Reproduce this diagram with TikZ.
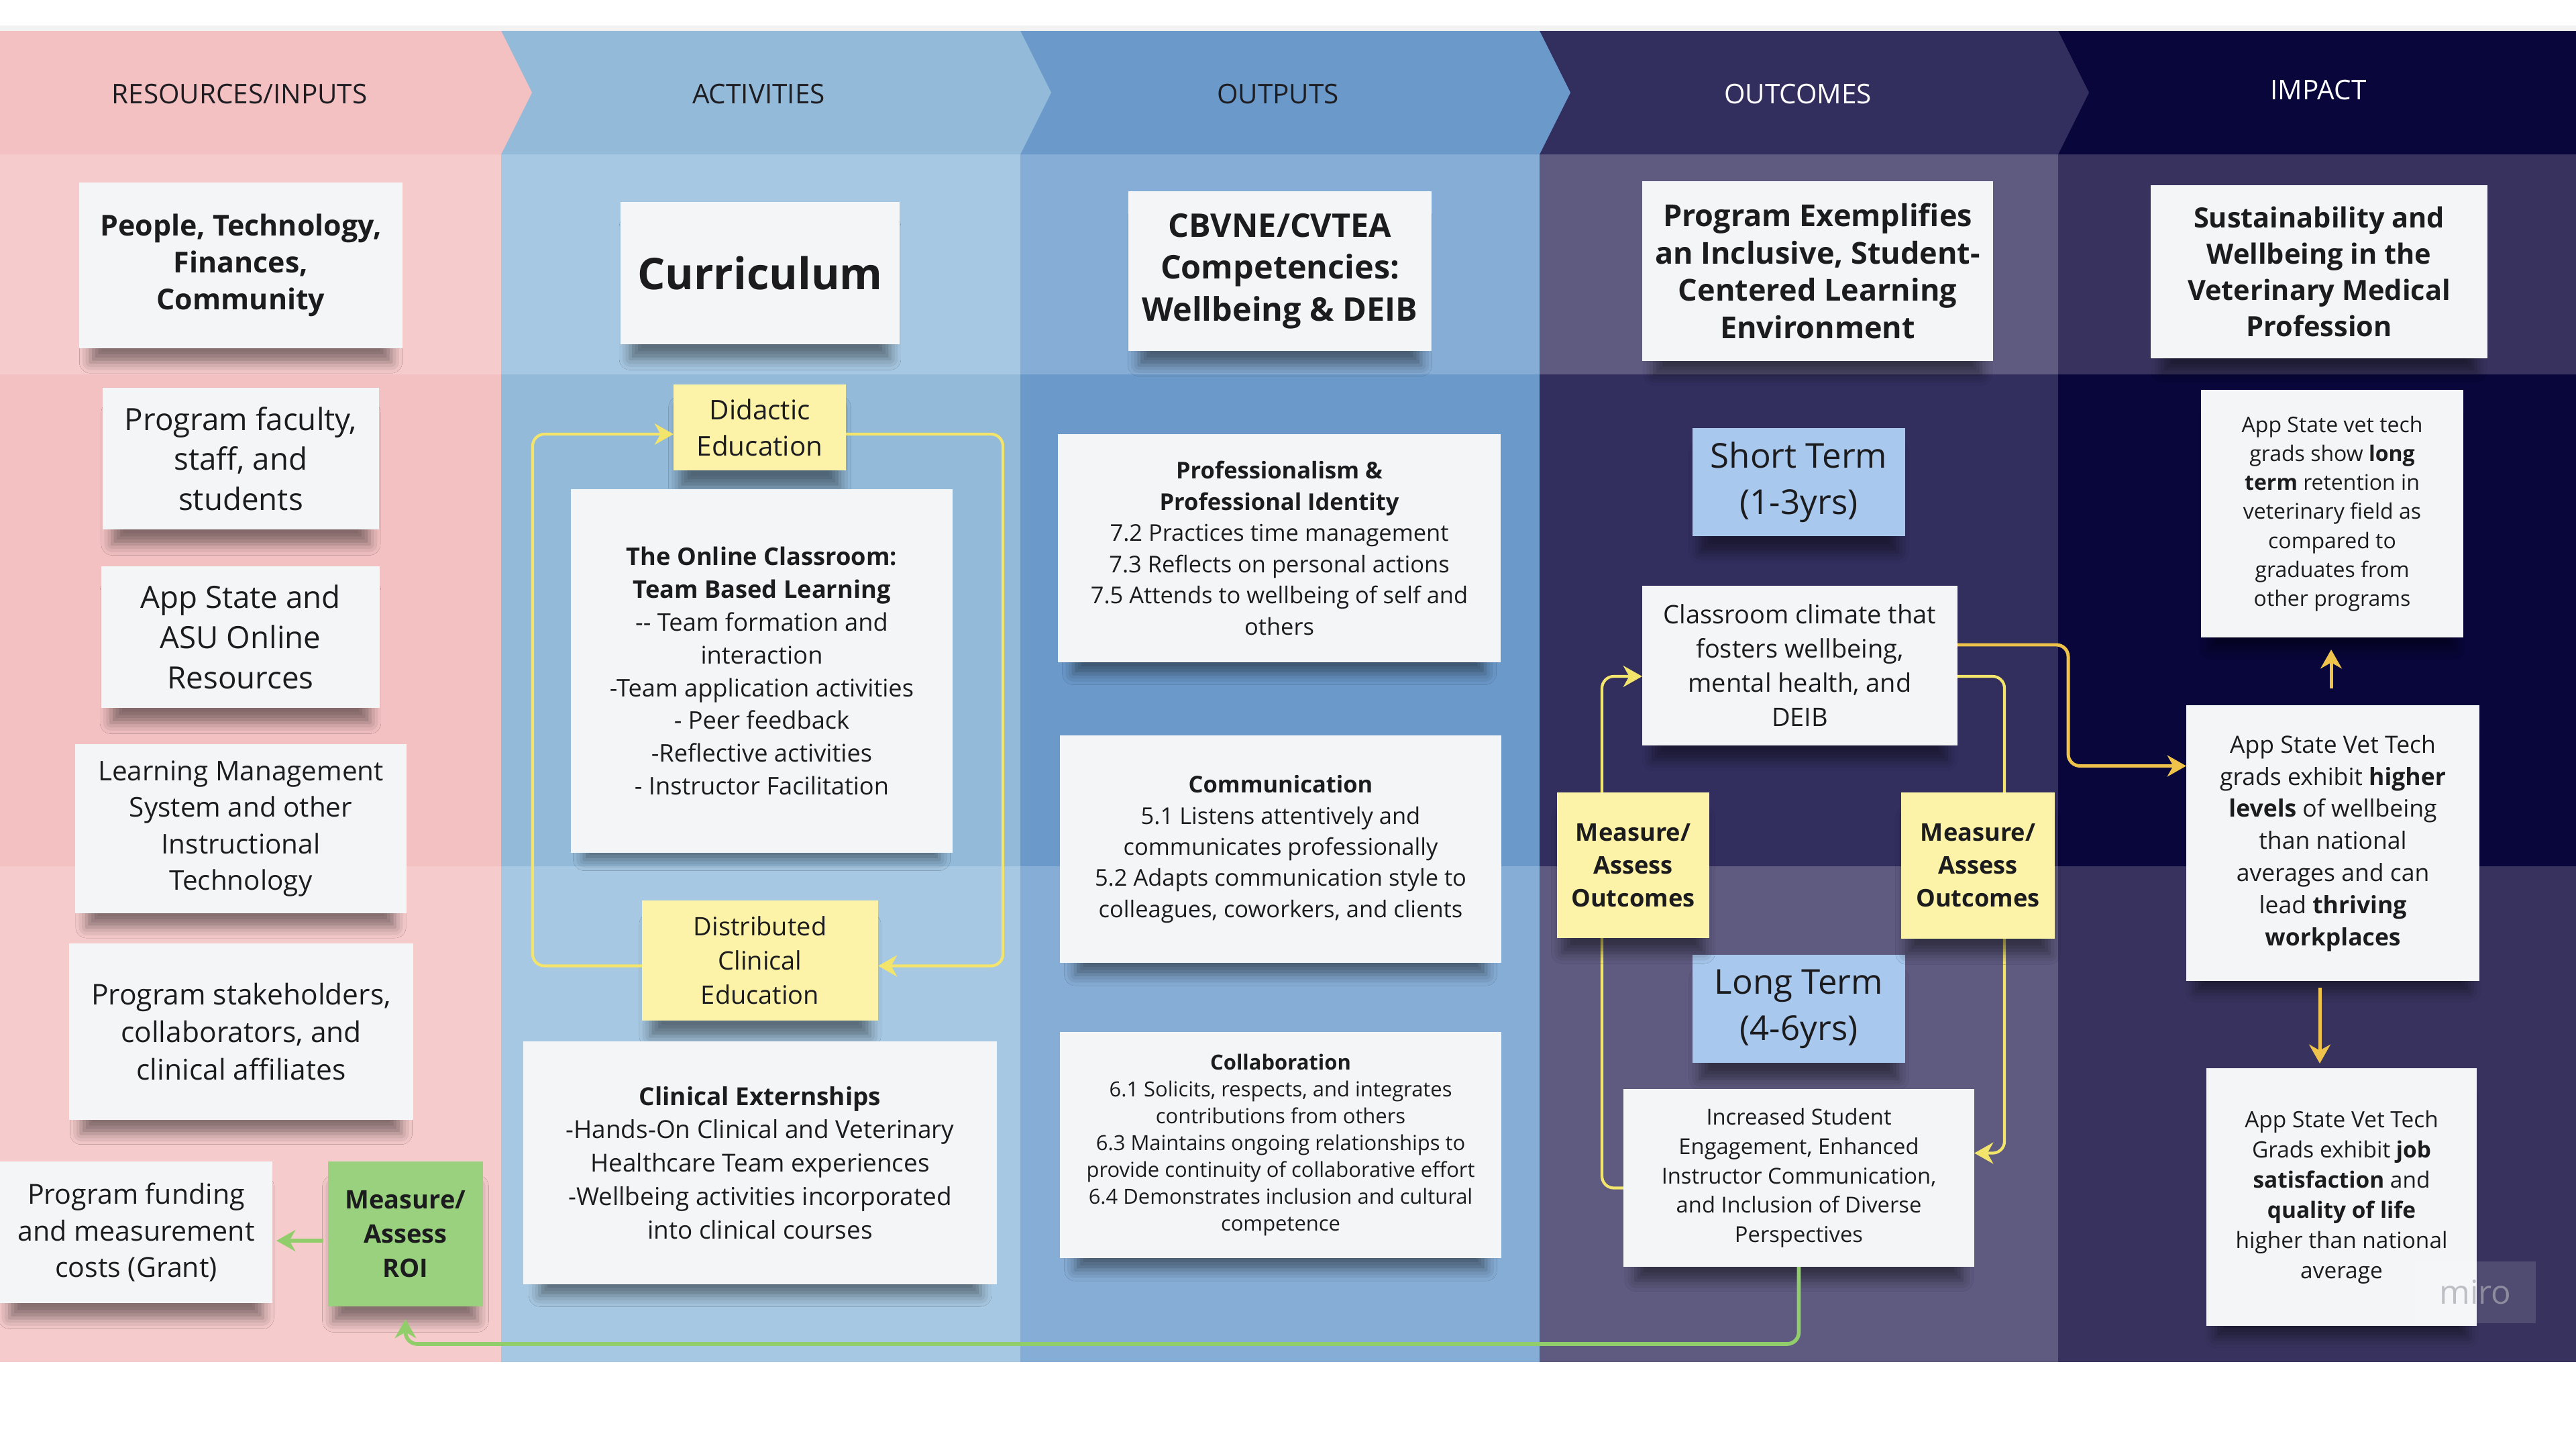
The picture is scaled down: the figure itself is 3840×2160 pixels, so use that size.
\documentclass[tikz,border=0pt]{standalone}
\usepackage{fontspec}
\setmainfont{Open Sans}
\usetikzlibrary{arrows.meta,calc,shadows.blur}
\definecolor{h1}{HTML}{F3C1C2}\definecolor{l1}{HTML}{F6CBCC}
\definecolor{h2}{HTML}{93BAD9}\definecolor{l2}{HTML}{A7C8E2}
\definecolor{h3}{HTML}{6A99CA}\definecolor{l3}{HTML}{86ADD6}
\definecolor{h4}{HTML}{322E5E}\definecolor{l4}{HTML}{5E5A80}
\definecolor{h5}{HTML}{08063A}\definecolor{l5}{HTML}{37335E}
\definecolor{notew}{HTML}{F4F5F7}
\definecolor{notetxt}{HTML}{1C1C1E}
\definecolor{ynote}{HTML}{FCF3A8}
\definecolor{bnote}{HTML}{A8C8EE}
\definecolor{gnote}{HTML}{99D17F}
\definecolor{loopy}{HTML}{F3E56C}
\definecolor{gold}{HTML}{EFC24B}
\definecolor{grn}{HTML}{92CD6B}
\definecolor{hdrdark}{HTML}{1E1E22}
\definecolor{mirogray}{HTML}{A8A8B2}
\newcommand\fz[2]{\fontsize{#1}{#2}\selectfont}
\tikzset{
  note/.style={fill=notew, text=notetxt, align=center, inner sep=0pt, outer sep=0pt,
    blur shadow={shadow xshift=0pt, shadow yshift=-9pt, shadow blur radius=5pt,
      shadow scale=0.93, shadow opacity=45}},
  wn/.style={note},
  yn/.style={note, fill=ynote},
  bn/.style={note, fill=bnote},
  gn/.style={note, fill=gnote},
  sz/.style 2 args={minimum width=#1cm, minimum height=#2cm},
  hdr/.style={font=\fz{11.5}{13}, inner sep=0pt},
  tipS/.style={-{Stealth[length=8pt,width=9pt,inset=2.5pt]}},
  loopline/.style={draw=loopy, line width=1.2pt, rounded corners=5pt, tipS},
  goldline/.style={draw=gold, line width=1.4pt, rounded corners=5pt, tipS},
  greenline/.style={draw=grn, line width=1.6pt, rounded corners=5pt, tipS},
}
\begin{document}
\begin{tikzpicture}[x=0.01cm,y=-0.01cm]
\useasboundingbox (0,0) rectangle (3840,2160);
\clip (0,0) rectangle (3840,2160);
\fill[white] (0,0) rectangle (3840,2160);
\fill[black!5] (0,38) rectangle (3840,46);
% body rows
\foreach \xl/\xr/\c in {0/747/1, 747/1521/2, 1521/2295/3, 2295/3068/4, 3068/3840/5}{
  \fill[l\c] (\xl,230) rectangle (\xr,558);
  \fill[h\c] (\xl,558) rectangle (\xr,1291);
  \fill[l\c] (\xl,1291) rectangle (\xr,2030);
}
% headers (chevrons)
\foreach \xl/\xr/\c in {3068/3840/5, 2295/3068/4, 1521/2295/3, 747/1521/2, 0/747/1}{
  \fill[h\c] (\xl,46) -- (\xr,46) -- (\xr+46,138) -- (\xr,230) -- (\xl,230) -- cycle;
}
\node[hdr, text=hdrdark] (hR) at (357,140) {RESOURCES/INPUTS};
\node[hdr, text=hdrdark] (hA) at (1131,140) {ACTIVITIES};
\node[hdr, text=hdrdark] (hO) at (1905,140) {OUTPUTS};
\node[hdr, text=white] (hC) at (2680,140) {OUTCOMES};
\node[hdr, text=white] (hI) at (3456,134) {IMPACT};

% column 1
\node[wn, sz={4.82}{2.47}, font=\fz{12.2}{15.6}\bfseries] (people) at (359,395.5) {People, Technology,\\Finances,\\Community};
\node[wn, sz={4.12}{2.11}, font=\fz{13}{17}] (faculty) at (359,683.5) {Program faculty,\\staff, and\\students};
\node[wn, sz={4.15}{2.11}, font=\fz{13}{17}] (asu) at (358.5,949.5) {App State and\\ASU Online\\Resources};
\node[wn, sz={4.94}{2.52}, font=\fz{11.5}{15.4}] (lms) at (359,1235) {Learning Management\\System and other\\Instructional\\Technology};
\node[wn, sz={5.13}{2.63}, font=\fz{12.1}{15.8}] (stake) at (359.5,1537.5) {Program stakeholders,\\collaborators, and\\clinical affiliates};
\node[wn, sz={4.06}{2.11}, font=\fz{11.7}{15.6}] (fund) at (203,1836.5) {Program funding\\and measurement\\costs (Grant)};
\node[gn, sz={2.31}{2.16}, font=\fz{10.8}{14.5}\bfseries] (roi) at (604.5,1839) {Measure/\\Assess\\ROI};

% column 2
\node[wn, sz={4.16}{2.12}, font=\fz{18.5}{22}\bfseries] (curr) at (1133,407) {Curriculum};
\node[yn, sz={2.57}{1.28}, font=\fz{11.5}{15.4}] (did) at (1132.5,637) {Didactic\\Education};
\node[wn, sz={5.69}{5.41}, font=\fz{10.3}{13.9}] (online) at (1135.5,1000) {\textbf{The Online Classroom:}\\\textbf{Team Based Learning}\\-{}- Team formation and\\interaction\\-Team application activities\\- Peer feedback\\-Reflective activities\\- Instructor Facilitation};
\node[yn, sz={3.52}{1.79}, font=\fz{10.8}{14.5}] (dist) at (1133,1431.5) {Distributed\\Clinical\\Education};
\node[wn, sz={7.06}{3.62}, font=\fz{10.5}{14.2}] (extern) at (1133,1733) {\textbf{Clinical Externships}\\-Hands-On Clinical and Veterinary\\Healthcare Team experiences\\-Wellbeing activities incorporated\\into clinical courses};

% column 3
\node[wn, sz={4.52}{2.38}, font=\fz{13.8}{17.8}\bfseries] (cbv) at (1908,404) {CBVNE/CVTEA\\Competencies:\\Wellbeing \& DEIB};
\node[wn, sz={6.60}{3.39}, font=\fz{9.8}{13.2}] (prof) at (1907,817) {\textbf{Professionalism \&}\\\textbf{Professional Identity}\\7.2 Practices time management\\7.3 Reflects on personal actions\\7.5 Attends to wellbeing of self and\\others};
\node[wn, sz={6.58}{3.39}, font=\fz{9.8}{13.2}] (comm) at (1909,1265.5) {\textbf{Communication}\\5.1 Listens attentively and\\communicates professionally\\5.2 Adapts communication style to\\colleagues, coworkers, and clients};
\node[wn, sz={6.58}{3.37}, font=\fz{8.8}{11.4}] (collab) at (1909,1706.5) {\textbf{Collaboration}\\6.1 Solicits, respects, and integrates\\contributions from others\\6.3 Maintains ongoing relationships to\\provide continuity of collaborative effort\\6.4 Demonstrates inclusion and cultural\\competence};

% column 4
\node[wn, sz={5.23}{2.68}, font=\fz{12.8}{15.9}\bfseries] (progex) at (2709.5,404) {Program Exemplifies\\an Inclusive, Student-\\Centered Learning\\Environment};
\node[bn, sz={3.17}{1.61}, font=\fz{14.5}{19.6}] (short) at (2681.5,718.5) {Short Term\\(1-3yrs)};
\node[wn, sz={4.70}{2.38}, font=\fz{10.8}{14.5}] (climate) at (2683,992) {Classroom climate that\\fosters wellbeing,\\mental health, and\\DEIB};
\node[bn, sz={3.17}{1.61}, font=\fz{14.5}{19.6}] (long) at (2681.5,1503.5) {Long Term\\(4-6yrs)};
\node[wn, sz={5.23}{2.65}, font=\fz{9.3}{12.5}] (incr) at (2681.5,1755.5) {Increased Student\\Engagement, Enhanced\\Instructor Communication,\\and Inclusion of Diverse\\Perspectives};

% column 5
\node[wn, sz={5.02}{2.58}, font=\fz{11.8}{15.3}\bfseries] (sust) at (3457,405) {Sustainability and\\Wellbeing in the\\Veterinary Medical\\Profession};
\node[wn, sz={3.91}{3.69}, font=\fz{9.1}{12.3}] (ret) at (3476.5,765.5) {App State vet tech\\grads show \textbf{long}\\\textbf{term} retention in\\veterinary field as\\compared to\\graduates from\\other programs};
\node[wn, sz={4.37}{4.11}, font=\fz{10.1}{13.6}] (higher) at (3477.5,1256.5) {App State Vet Tech\\grads exhibit \textbf{higher}\\\textbf{levels} of wellbeing\\than national\\averages and can\\lead \textbf{thriving}\\\textbf{workplaces}};
\node[wn, sz={4.03}{3.84}, font=\fz{9.5}{12.8}] (job) at (3490.5,1784) {App State Vet Tech\\Grads exhibit \textbf{job}\\\textbf{satisfaction} and\\\textbf{quality of life}\\higher than national\\average};

% connectors column 2 loop
\coordinate (lL) at (794,1000);
\coordinate (lR) at (1495,1000);
\draw[loopline] ($(dist.west)+(0,8)$) -| (lL) |- ($(did.west)+(0,10)$);
\draw[loopline] ($(did.east)+(0,10)$) -| (lR) |- ($(dist.east)+(0,8)$);

% connectors column 4 loop
\coordinate (cL) at (2388,1300);
\coordinate (cR) at (2988,1300);
\draw[loopline] ($(incr.west)+(0,15)$) -| (cL) |- ($(climate.west)+(0,16)$);
\draw[loopline] ($(climate.east)+(0,16)$) -| (cR) |- ($(incr.east)+(0,-37)$);

% measure notes on top of the loop lines
\node[yn, sz={2.27}{2.17}, font=\fz{10.3}{13.9}\bfseries] (measL) at (2434.5,1289.5) {Measure/\\Assess\\Outcomes};
\node[yn, sz={2.29}{2.18}, font=\fz{10.3}{13.9}\bfseries] (measR) at (2948.5,1290) {Measure/\\Assess\\Outcomes};

% gold connectors
\coordinate (gc) at (3083,1050);
\draw[goldline] ($(climate.east)+(0,-31)$) -| (gc) |- ($(higher.west)+(0,-115)$);
\coordinate (uA) at ($(higher.north)+(-2.5,0)$);
\draw[goldline, shorten <=0.25cm, shorten >=0.18cm] (uA) -- (uA |- ret.south);
\coordinate (dA) at ($(higher.south)+(-19.5,0)$);
\draw[goldline, shorten <=0.1cm, shorten >=0.07cm] (dA) -- (dA |- job.north);

% green connectors
\coordinate (gb) at (1500,2003);
\draw[greenline, shorten >=0.19cm] (incr.south) |- (gb) -| (roi.south);
\coordinate (rA) at ($(roi.west)+(0,10)$);
\draw[greenline, shorten <=0.07cm, shorten >=0.06cm] (rA) -- (rA -| fund.east);

% watermark
\node[fill=white, fill opacity=0.12, text opacity=0.7, text=mirogray, minimum width=1.8cm, minimum height=0.92cm, inner sep=0pt, font=\fz{14}{14}] (miro) at (3690,1926) {miro};
\end{tikzpicture}
\end{document}
